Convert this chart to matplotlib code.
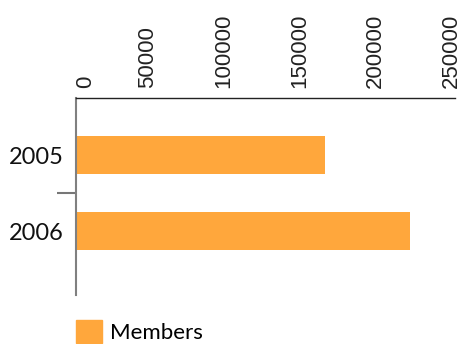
import matplotlib.pyplot as plt
from matplotlib.patches import Patch
from matplotlib.transforms import ScaledTranslation

years = ["2005", "2006"]
members = [164000, 220500]
xticks = [0, 50000, 100000, 150000, 200000, 250000]

W, H = 463, 344
fig = plt.figure(figsize=(W / 100, H / 100), dpi=100)
ax = fig.add_axes([76 / W, 1 - 295 / H, (455 - 76) / W, (295 - 98) / H])

color = "#ffa73c"
ax.barh(range(len(years)), members, height=0.5, color=color)

ax.set_xlim(0, 250000)
ax.set_ylim(1.84, -0.75)

ax.xaxis.tick_top()
ax.set_xticks(xticks)
ax.set_xticklabels([str(t) for t in xticks], rotation=90, fontsize=16,
                   family="Liberation Sans", color="#222222")
ax.tick_params(axis="x", length=0, pad=7)
# nudge labels: first one clears the axis line, the rest sit a bit left
for i, lab in enumerate(ax.get_xticklabels()):
    dx = 10 if i == 0 else -4
    lab.set_transform(lab.get_transform() + ScaledTranslation(dx / 100, 0, fig.dpi_scale_trans))

ax.set_yticks(range(len(years)))
ax.set_yticklabels(years, fontsize=17, family="Lato", color="#111111")
ax.tick_params(axis="y", length=0, pad=9)
ax.set_yticks([0.5], minor=True)
ax.tick_params(axis="y", which="minor", length=14, width=1.5, color="#777777")

for s in ["right", "bottom"]:
    ax.spines[s].set_visible(False)
ax.spines["left"].set_color("#808080")
ax.spines["left"].set_linewidth(1.5)
ax.spines["top"].set_color("#222222")
ax.spines["top"].set_linewidth(1)

fig.legend(handles=[Patch(color=color)], labels=["Members"],
           loc="lower left", bbox_to_anchor=(76 / W, 1 / H), frameon=False,
           borderpad=0, borderaxespad=0, handlelength=1.15, handleheight=1.15,
           handletextpad=0.4, prop={"family": "Lato", "size": 16})

fig.savefig("out.png", dpi=100)
